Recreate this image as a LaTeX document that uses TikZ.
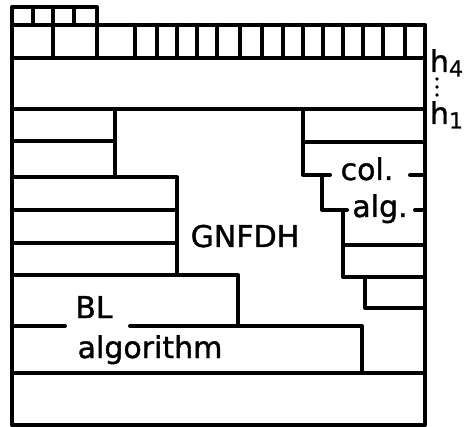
\documentclass[tikz,border=0pt]{standalone}
\usepackage{fontspec}
\setmainfont{DejaVu Sans}
\newfontfamily\lblfont{DejaVu Sans}[FakeBold=1.2]
\begin{document}
\begin{tikzpicture}[x=1pt,y=-1pt,line width=4pt,line cap=round,line join=round,
  lbl/.style={font=\lblfont\fontsize{30}{30}\selectfont,inner sep=0pt,anchor=base}]
\useasboundingbox (0,0) rectangle (470,427);
% top small boxes
\draw (12,58) -- (12,7) -- (97,7) -- (97,58);
\draw (12,25) -- (97,25);
\draw (33,7) -- (33,25) (53,7) -- (53,58) (74,7) -- (74,25);
% strip of narrow boxes
\draw (97,25) -- (425,25);
\foreach \x in {135,157,177,197,217,240,262,283,303,323,343,363,383,405}
  \draw (\x,25) -- (\x,58);
% outer frame and full-width lines
\draw (12,58) -- (425,58);
\draw (425,25) -- (425,425) -- (12,425) -- (12,58);
\draw (12,109) -- (425,109);
\draw (12,373) -- (425,373);
% left (BL) staircase
\draw (12,141) -- (115,141);
\draw (115,109) -- (115,177);
\draw (12,177) -- (177,177) -- (177,275);
\draw (12,210) -- (177,210);
\draw (12,243) -- (177,243);
\draw (12,275) -- (238,275) -- (238,326);
\draw (12,326) -- (65,326);
\draw (130,326) -- (362,326) -- (362,373);
% right (column algorithm) staircase
\draw (303,109) -- (303,175) -- (330,175);
\draw (303,142) -- (425,142);
\draw (410,175) -- (425,175);
\draw (322,175) -- (322,210) -- (347,210);
\draw (415,210) -- (425,210);
\draw (343,210) -- (343,277) -- (425,277);
\draw (343,245) -- (425,245);
\draw (365,277) -- (365,308) -- (425,308);
% labels
\node[lbl] (gnfdh) at (245,247) {GNFDH};
\node[lbl] (col) at (367,180) {col.};
\node[lbl] (alg) at (380,217) {alg.};
\node[lbl] (bl) at (94,318) {BL};
\node[lbl] (algo) at (150,358) {algorithm};
\node[lbl,anchor=base west] (h4) at (428,72) {h\raisebox{-0.15em}{\fontsize{22}{22}\selectfont 4}};
\node[lbl,anchor=base west] (h1) at (428,124) {h\raisebox{-0.15em}{\fontsize{22}{22}\selectfont 1}};
\foreach \y in {79,87,95} \fill (437,\y) circle (1.8);
\end{tikzpicture}
\end{document}
